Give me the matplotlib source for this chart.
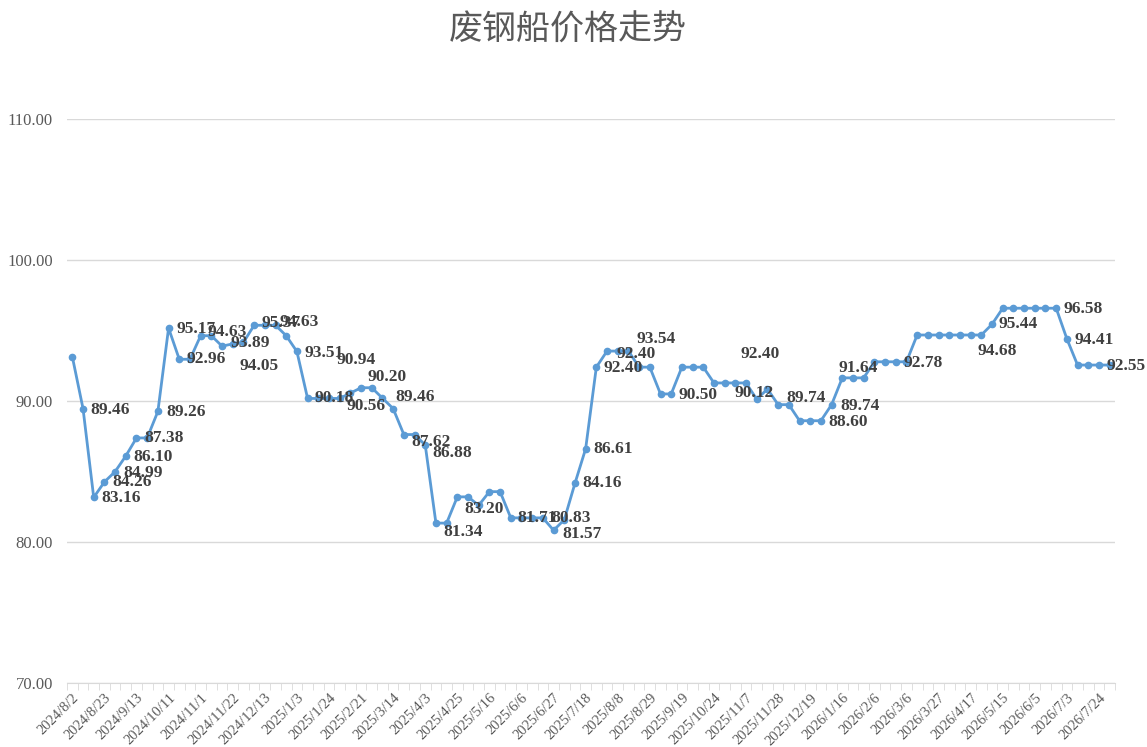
import numpy as np
import matplotlib
matplotlib.use("Agg")
import matplotlib.pyplot as plt
from matplotlib.ticker import FixedLocator

# 每周价格（2024/8/2 起）
prices = [
    93.14, 89.46, 83.16, 84.26, 84.99, 86.10, 87.38, 87.38, 89.26, 95.17,
    92.96, 92.96, 94.63, 94.63, 93.89, 94.05, 94.16, 95.37, 95.37, 95.37,
    94.63, 93.51, 90.18, 90.18, 90.18, 90.18, 90.56, 90.94, 90.94, 90.20,
    89.46, 87.62, 87.62, 86.88, 81.34, 81.34, 83.20, 83.20, 82.60, 83.57,
    83.57, 81.71, 81.71, 81.71, 81.71, 80.83, 81.57, 84.16, 86.61, 92.40,
    93.54, 93.54, 93.54, 92.40, 92.40, 90.50, 90.50, 92.40, 92.40, 92.40,
    91.28, 91.28, 91.28, 91.28, 90.12, 90.85, 89.74, 89.74, 88.60, 88.60,
    88.60, 89.74, 91.64, 91.64, 91.64, 92.78, 92.78, 92.78, 92.78, 94.68,
    94.68, 94.68, 94.68, 94.68, 94.68, 94.68, 95.44, 96.58, 96.58, 96.58,
    96.58, 96.58, 96.58, 94.41, 92.55, 92.55, 92.55, 92.55,
]

# 每隔三周显示一个日期
date_labels = [
    "2024/8/2", "2024/8/23", "2024/9/13", "2024/10/11", "2024/11/1",
    "2024/11/22", "2024/12/13", "2025/1/3", "2025/1/24", "2025/2/21",
    "2025/3/14", "2025/4/3", "2025/4/25", "2025/5/16", "2025/6/6",
    "2025/6/27", "2025/7/18", "2025/8/8", "2025/8/29", "2025/9/19",
    "2025/10/24", "2025/11/7", "2025/11/28", "2025/12/19", "2026/1/16",
    "2026/2/6", "2026/3/6", "2026/3/27", "2026/4/17", "2026/5/15",
    "2026/6/5", "2026/7/3", "2026/7/24",
]

# 数据标签：点序号 -> 相对像素偏移 (右, 下)
label_offsets = {
    1: (27, 1), 2: (27, 1), 3: (28, 0), 4: (28, 1), 5: (27, 1), 6: (28, 0),
    8: (28, 1), 9: (27, 1), 10: (27, 0), 12: (27, -4), 14: (28, -3),
    15: (26, 22), 17: (27, -2), 20: (13, -14), 21: (27, 2), 22: (27, 0),
    26: (16, 13), 27: (-5, -28), 29: (5, -21), 30: (22, -12), 31: (27, 7),
    33: (27, 8), 34: (27, 9), 37: (16, 12), 41: (26, 0), 45: (18, -12),
    46: (18, 14), 47: (27, 0), 48: (27, 0), 49: (27, 1), 52: (28, -12),
    53: (-3, -13), 56: (27, 1), 59: (57, -13), 64: (-3, -6), 67: (17, -7),
    70: (27, 1), 71: (28, 1), 73: (5, -10), 77: (27, 1), 85: (16, 16),
    86: (26, 0), 92: (27, 1), 93: (27, 1), 96: (27, 1),
}

x = np.arange(len(prices))

fig = plt.figure(figsize=(11.47, 7.47), dpi=100)
ax = fig.add_axes([0.0584, 0.0857, 0.9137, 0.755])

ax.plot(x, prices, color="#5b9bd5", linewidth=2.0, marker="o",
        markersize=4.5, zorder=3)

for i, (dx, dy) in label_offsets.items():
    ax.annotate(f"{prices[i]:.2f}", (x[i], prices[i]), xytext=(dx, -dy),
                textcoords="offset pixels", ha="center", va="center",
                fontsize=12.5, fontweight="bold", family="Liberation Serif",
                color="#404040", zorder=4)

ax.set_ylim(70, 110)
ax.set_yticks([70, 80, 90, 100, 110])
ax.set_yticklabels([f"{v:.2f}" for v in [70, 80, 90, 100, 110]],
                   family="Liberation Serif", fontsize=12, color="#595959")
ax.yaxis.grid(True, color="#d9d9d9", linewidth=1)
ax.set_axisbelow(True)
ax.tick_params(axis="y", length=0, pad=10)

ax.set_xlim(-0.5, len(prices) - 0.5)
ax.set_xticks(x[::3])
ax.set_xticklabels(date_labels, rotation=45, ha="right",
                   rotation_mode="anchor", family="Liberation Serif",
                   fontsize=10.5, color="#595959")
ax.xaxis.set_minor_locator(FixedLocator(np.arange(len(prices) + 1) - 0.5))
ax.tick_params(axis="x", which="major", length=0, pad=6)
ax.tick_params(axis="x", which="minor", length=5, color="#d9d9d9")

for side in ["top", "right", "left"]:
    ax.spines[side].set_visible(False)
ax.spines["bottom"].set_color("#d9d9d9")

fig.text(0.495, 0.96, "废钢船价格走势", ha="center", va="center",
         fontsize=24.5, color="#595959", family=["Noto Sans CJK SC", "DejaVu Sans"])

fig.savefig("out.png", dpi=100)
